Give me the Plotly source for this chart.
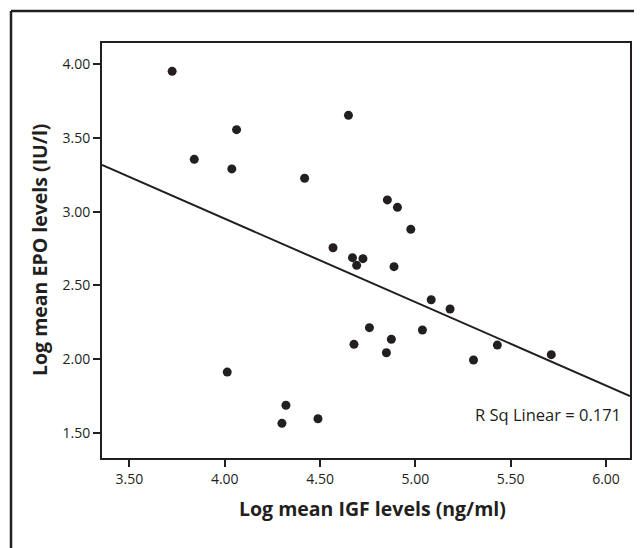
import plotly.graph_objects as go

# Data
igf_log = [3.724, 3.840, 4.062, 4.037, 4.419, 4.649, 4.853, 4.568, 4.670, 4.725,
           4.692, 4.906, 4.976, 4.888, 5.083, 5.182, 5.037, 4.874, 4.848, 5.305,
           5.430, 5.713, 4.759, 4.678, 4.013, 4.321, 4.300, 4.489]
epo_log = [3.950, 3.354, 3.555, 3.289, 3.226, 3.652, 3.079, 2.755, 2.688, 2.681,
           2.636, 3.029, 2.880, 2.627, 2.403, 2.340, 2.198, 2.135, 2.044, 1.995,
           2.096, 2.031, 2.214, 2.101, 1.913, 1.688, 1.566, 1.597]

# Linear fit
fit_intercept = 5.212
fit_slope = -0.565
r_sq_text = "R Sq Linear = 0.171"

x_title = "Log mean IGF levels (ng/ml)"
y_title = "Log mean EPO levels (IU/l)"

x_range = [3.356, 6.126]
y_range = [1.331, 4.142]
x_ticks = [3.5, 4.0, 4.5, 5.0, 5.5, 6.0]
y_ticks = [1.5, 2.0, 2.5, 3.0, 3.5, 4.0]

FONT = "Open Sans"
INK = "#231f20"

fig = go.Figure()
fig.add_trace(go.Scatter(
    x=igf_log, y=epo_log, mode="markers",
    marker=dict(color=INK, size=9, line=dict(width=0)),
    showlegend=False, hoverinfo="x+y"))
fig.add_trace(go.Scatter(
    x=x_range, y=[fit_intercept + fit_slope * v for v in x_range],
    mode="lines", line=dict(color=INK, width=2),
    showlegend=False, hoverinfo="skip"))

# page body has an 8px margin, so the figure is sized to the visible area
OFF = 8
W, H = 642 - OFF, 548 - OFF
ml, mr, mt, mb = 102 - OFF, 12, 43 - OFF, 90
pw, ph = W - ml - mr, H - mt - mb

def px_x(px):
    return (px - OFF - ml) / pw

def px_y(py):
    return (H - mb - (py - OFF)) / ph

fig.update_layout(
    width=W, height=H,
    margin=dict(l=ml, r=mr, t=mt, b=mb, autoexpand=False),
    paper_bgcolor="white", plot_bgcolor="white",
    font=dict(family=FONT, color=INK, size=14),
    xaxis=dict(range=x_range, tickvals=x_ticks, ticktext=[f"{v:.2f}" for v in x_ticks],
               showgrid=False, zeroline=False, showline=True, mirror=True,
               linecolor=INK, linewidth=2, ticks="outside", ticklen=7,
               tickwidth=1.5, tickcolor=INK, tickfont=dict(size=14, color=INK)),
    yaxis=dict(range=y_range, tickvals=y_ticks, ticktext=[f"{v:.2f}" for v in y_ticks],
               showgrid=False, zeroline=False, showline=True, mirror=True,
               linecolor=INK, linewidth=2, ticks="outside", ticklen=7,
               tickwidth=1.5, tickcolor=INK, tickfont=dict(size=14, color=INK)),
    annotations=[
        dict(text=r_sq_text, xref="paper", yref="paper",
             x=px_x(623), y=px_y(414), xanchor="right", yanchor="middle",
             showarrow=False, font=dict(size=16.5, family=FONT, color=INK)),
        dict(text=f"<b>{x_title}</b>", xref="paper", yref="paper",
             x=px_x(372), y=px_y(508), xanchor="center", yanchor="middle",
             showarrow=False, font=dict(size=19.5, family=FONT, color=INK)),
        dict(text=f"<b>{y_title}</b>", xref="paper", yref="paper",
             x=px_x(40), y=px_y(250), xanchor="center", yanchor="middle",
             textangle=-90, showarrow=False,
             font=dict(size=19.5, family=FONT, color=INK)),
    ],
    shapes=[
        dict(type="line", xref="paper", yref="paper", x0=px_x(11), x1=px_x(660),
             y0=px_y(11), y1=px_y(11), line=dict(color=INK, width=2.5)),
        dict(type="line", xref="paper", yref="paper", x0=px_x(11), x1=px_x(11),
             y0=px_y(11), y1=px_y(560), line=dict(color=INK, width=2.5)),
    ],
)

fig.write_html("out.html")
